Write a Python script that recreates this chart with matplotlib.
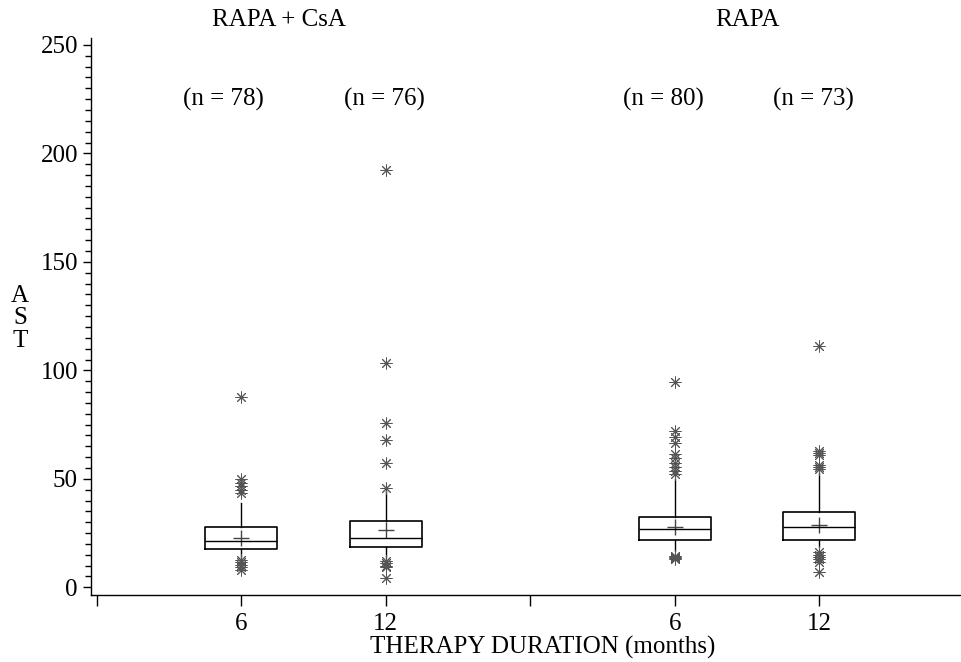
import matplotlib
matplotlib.use("Agg")
import matplotlib.pyplot as plt
from matplotlib.ticker import MultipleLocator, FixedLocator

# ---- data ----
groups = ["RAPA + CsA", "RAPA"]
durations = ["6", "12", "6", "12"]
n_labels = ["(n = 78)", "(n = 76)", "(n = 80)", "(n = 73)"]
positions = [1, 2, 4, 5]

q1 = [17.5, 18.7, 21.8, 21.8]
med = [21.4, 22.6, 26.9, 27.7]
q3 = [27.7, 30.7, 32.6, 34.6]
mean = [22.5, 26.4, 28.0, 28.7]
whislo = [13.8, 13.4, 16.9, 18.4]
whishi = [39.0, 44.9, 49.8, 52.6]

out_1 = [87.9, 49.7, 48.0, 46.5, 45.0, 43.3, 12.4, 11.5, 10.5, 9.5, 8.2]
out_2 = [192.5, 103.3, 75.9, 67.9, 57.2, 45.9, 12.1, 11.0, 10.0, 9.3, 4.1]
out_3 = [94.8, 72.0, 69.5, 66.5, 61.5, 59.5, 57.5, 55.5, 53.5, 52.0,
         14.5, 14.0, 13.5, 13.0]
out_4 = [111.0, 63.0, 62.0, 61.0, 56.5, 55.5, 54.5,
         16.3, 15.0, 14.0, 13.0, 11.7, 7.2]
outliers = [out_1, out_2, out_3, out_4]

plt.rcParams['font.family'] = ['Liberation Serif', 'DejaVu Serif']
FS = 18

fig = plt.figure(figsize=(9.61, 6.62), dpi=100)
ax = fig.add_axes([90.5 / 961, 67 / 662, (961 - 90.5) / 961, (595 - 38) / 662])

stats = []
for i in range(4):
    stats.append(dict(q1=q1[i], med=med[i], q3=q3[i],
                      whislo=whislo[i], whishi=whishi[i], fliers=[]))

ax.bxp(stats, positions=positions, widths=0.5, showmeans=False, showcaps=False,
       showfliers=False, patch_artist=False,
       boxprops=dict(color='black', linewidth=1.2),
       whiskerprops=dict(color='black', linewidth=1.0),
       medianprops=dict(color='black', linewidth=1.0))

ax.plot(positions, mean, linestyle='none', marker='+', markersize=11,
        markeredgecolor='#444444', markeredgewidth=1.0)

for p, o in zip(positions, outliers):
    ax.plot([p] * len(o), o, linestyle='none', marker=(8, 2, 0), markersize=8.5,
            markeredgecolor='#555555', markeredgewidth=0.7, clip_on=False)

ax.set_xlim(-0.043, 5.98)
ax.set_ylim(-3.55, 253.2)

for sp in ['top', 'right']:
    ax.spines[sp].set_visible(False)
for sp in ['left', 'bottom']:
    ax.spines[sp].set_linewidth(1.0)
    ax.spines[sp].set_color('black')

ax.yaxis.set_major_locator(MultipleLocator(50))
ax.yaxis.set_minor_locator(MultipleLocator(5))
ax.tick_params(axis='y', which='major', length=6, width=1, direction='out',
               labelsize=FS, pad=3)
ax.tick_params(axis='y', which='minor', length=4, width=1, direction='out')

ax.xaxis.set_major_locator(FixedLocator([0, 1, 2, 3, 4, 5]))
ax.set_xticklabels(["", durations[0], durations[1], "", durations[2], durations[3]])
ax.tick_params(axis='x', which='major', length=8, width=1, direction='out',
               labelsize=FS, pad=5)

ax.set_xlabel("THERAPY DURATION (months)", fontsize=FS)
ax.xaxis.set_label_coords(0.519, -0.074)
ax.xaxis.label.set_verticalalignment('top')
ax.text(-0.53, 124, "A\nS\nT", fontsize=FS, ha='center', va='center',
        linespacing=1.03, clip_on=False)

n_x = [0.88, 1.99, 3.92, 4.96]
for x, t in zip(n_x, n_labels):
    ax.text(x, 224.8, t, fontsize=FS, ha='center', va='center')

ax.text(1.26, 261.5, groups[0], fontsize=FS, ha='center', va='center', clip_on=False)
ax.text(4.5, 261.5, groups[1], fontsize=FS, ha='center', va='center', clip_on=False)

fig.savefig("out.png", dpi=100)
